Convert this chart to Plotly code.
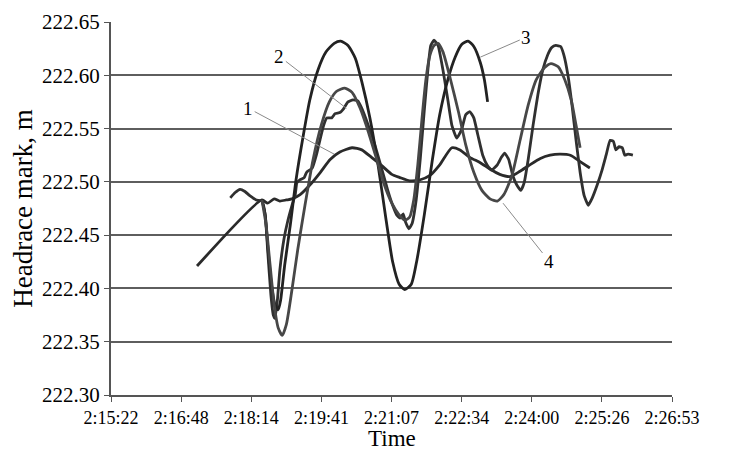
import plotly.graph_objects as go

# Tick labels of the time axis
time_ticks = ["2:15:22", "2:16:48", "2:18:14", "2:19:41", "2:21:07",
              "2:22:34", "2:24:00", "2:25:26", "2:26:53"]
x_title = "Time"
y_title = "Headrace mark, m"

# Curve 1 (elapsed seconds since 2:15:22, headrace mark in m)
t1 = [106, 186, 193, 201, 208, 216, 223, 233, 245, 258, 270, 282, 297, 309, 321,
      334, 346, 356, 368, 381, 393, 405, 420, 430, 442, 455, 467, 479, 492, 504,
      516, 529, 541, 553, 566, 578, 590]
v1 = [222.421, 222.483, 222.480, 222.484, 222.482, 222.483, 222.484, 222.488,
      222.497, 222.509, 222.521, 222.528, 222.532, 222.530, 222.523, 222.515,
      222.507, 222.504, 222.501, 222.502, 222.506, 222.516, 222.532, 222.530,
      222.523, 222.518, 222.512, 222.507, 222.505, 222.510, 222.516, 222.522,
      222.525, 222.526, 222.525, 222.519, 222.513]

# Curve 2
t2 = [147, 153, 159, 165, 171, 179, 186, 190, 193, 197, 200, 202, 205, 208, 213,
      218, 223, 227, 229, 233, 238, 241, 248, 253, 258, 262, 266, 272, 276, 282,
      286, 292, 298, 304, 309, 317, 325, 334, 341, 347, 352, 356, 360, 363, 367,
      371, 376, 381, 386, 391, 394, 398, 403, 409, 415, 420, 426, 432, 437, 442,
      447, 452, 458, 464, 469, 476, 481, 485, 490, 495, 500, 505, 509, 514, 520,
      526, 532, 538, 543, 548, 554, 558, 563, 568, 573, 578, 583, 588, 593, 599,
      605, 610, 615, 619, 622, 626, 630, 633, 637, 643]
v2 = [222.485, 222.490, 222.493, 222.491, 222.487, 222.483, 222.482, 222.469,
      222.436, 222.394, 222.375, 222.372, 222.389, 222.417, 222.446, 222.464,
      222.478, 222.488, 222.499, 222.502, 222.504, 222.509, 222.513, 222.525,
      222.541, 222.553, 222.560, 222.560, 222.564, 222.565, 222.568, 222.575,
      222.577, 222.576, 222.569, 222.553, 222.535, 222.511, 222.492, 222.478,
      222.469, 222.466, 222.470, 222.462, 222.456, 222.461, 222.483, 222.521,
      222.567, 222.610, 222.628, 222.633, 222.628, 222.605, 222.577, 222.553,
      222.541, 222.549, 222.563, 222.566, 222.560, 222.544, 222.525, 222.515,
      222.511, 222.516, 222.523, 222.527, 222.521, 222.506, 222.497, 222.492,
      222.499, 222.521, 222.553, 222.582, 222.605, 222.619, 222.626, 222.628,
      222.627, 222.619, 222.600, 222.572, 222.539, 222.509, 222.487, 222.478,
      222.485, 222.497, 222.511, 222.525, 222.539, 222.538, 222.530, 222.533,
      222.532, 222.525, 222.526, 222.525]

# Curve 3
t3 = [186, 190, 193, 197, 202, 206, 209, 214, 221, 228, 237, 245, 255, 265, 275,
      283, 292, 301, 309, 319, 329, 339, 347, 355, 362, 370, 377, 386, 396, 405,
      415, 424, 432, 440, 447, 455, 460, 464]
v3 = [222.483, 222.469, 222.441, 222.408, 222.385, 222.380, 222.389, 222.422,
      222.460, 222.502, 222.544, 222.577, 222.605, 222.622, 222.630, 222.632,
      222.628, 222.616, 222.594, 222.560, 222.516, 222.464, 222.425, 222.404,
      222.399, 222.404, 222.427, 222.469, 222.521, 222.563, 222.596, 222.617,
      222.629, 222.632, 222.627, 222.612, 222.596, 222.575]

# Curve 4
t4 = [186, 191, 196, 201, 206, 211, 216, 223, 230, 239, 249, 259, 269, 278, 288,
      297, 307, 317, 327, 336, 346, 355, 362, 368, 373, 378, 383, 388, 393, 398,
      403, 409, 418, 428, 437, 447, 457, 467, 476, 484, 494, 504, 514, 524, 534,
      542, 551, 559, 567, 573, 578]
v4 = [222.483, 222.460, 222.422, 222.385, 222.363, 222.356, 222.366, 222.399,
      222.436, 222.478, 222.521, 222.553, 222.575, 222.585, 222.588, 222.584,
      222.569, 222.547, 222.522, 222.499, 222.480, 222.469, 222.464, 222.467,
      222.483, 222.516, 222.558, 222.596, 222.619, 222.628, 222.630, 222.622,
      222.597, 222.566, 222.535, 222.509, 222.492, 222.484, 222.482, 222.488,
      222.506, 222.539, 222.572, 222.596, 222.607, 222.611, 222.608, 222.596,
      222.577, 222.553, 222.532]

# Curve labels
labels = ["1", "2", "3", "4"]

# Excel-style major unit: 0.001 day = 86.4 s
tick_vals = [86.4 * i for i in range(len(time_ticks))]

serif = "Liberation Serif, Times New Roman, serif"

fig = go.Figure()
curves = [
    (t1, v1, "#2a2a2a", 0.6),
    (t2, v2, "#303030", 0.4),
    (t3, v3, "#222222", 0.6),
    (t4, v4, "#474747", 0.6),
]
for (t, v, c, sm), name in zip(curves, labels):
    fig.add_trace(go.Scatter(x=t, y=v, mode="lines", name=name,
                             line=dict(color=c, width=2.8, shape="spline",
                                       smoothing=sm),
                             showlegend=False, hoverinfo="skip"))

ann_style = dict(showarrow=True, arrowhead=0, arrowwidth=1, arrowcolor="#8a8a8a",
                 font=dict(family=serif, size=19, color="#000000"),
                 xref="x", yref="y", axref="pixel", ayref="pixel")
fig.add_annotation(x=t1[10] + 5, y=222.526, text=labels[0], ax=-86, ay=-46, **ann_style)
fig.add_annotation(x=t2[30] + 4, y=222.569, text=labels[1], ax=-67, ay=-52, **ann_style)
fig.add_annotation(x=t3[35], y=222.617, text=labels[2], ax=46, ay=-20, **ann_style)
fig.add_annotation(x=t4[38] + 7, y=222.480, text=labels[3], ax=46, ay=58, **ann_style)

# x-axis title placed as a paper annotation so it stays inside the page
fig.add_annotation(x=0.5, y=-0.116, xref="paper", yref="paper", text=x_title,
                   showarrow=False, xanchor="center", yanchor="middle",
                   font=dict(family=serif, size=23, color="#000000"))

# the page body adds an 8 px offset, so the margins are shifted to compensate
fig.update_layout(
    width=730, height=450,
    margin=dict(l=103, r=66, t=14, b=63, autoexpand=False),
    paper_bgcolor="white", plot_bgcolor="white",
    font=dict(family=serif, color="#000000"),
    xaxis=dict(
        range=[0, 691.2], tickmode="array", tickvals=tick_vals, ticktext=time_ticks,
        showgrid=False, zeroline=False, showline=True, linecolor="#555555",
        linewidth=2, ticks="outside", ticklen=5, tickcolor="#555555",
        automargin=False,
        tickfont=dict(family=serif, size=18, color="#000000"),
    ),
    yaxis=dict(
        range=[222.30, 222.65], dtick=0.05, tick0=222.30, tickformat=".2f",
        showgrid=True, gridcolor="#5e5e5e", gridwidth=2, zeroline=False,
        showline=True, linecolor="#555555", linewidth=2, ticks="outside",
        ticklen=5, tickcolor="#555555", automargin=False,
        tickfont=dict(family=serif, size=21, color="#000000"),
        title=dict(text=y_title,
                   font=dict(family=serif, size=27, color="#000000"), standoff=6),
    ),
)

fig.write_html("out.html")
